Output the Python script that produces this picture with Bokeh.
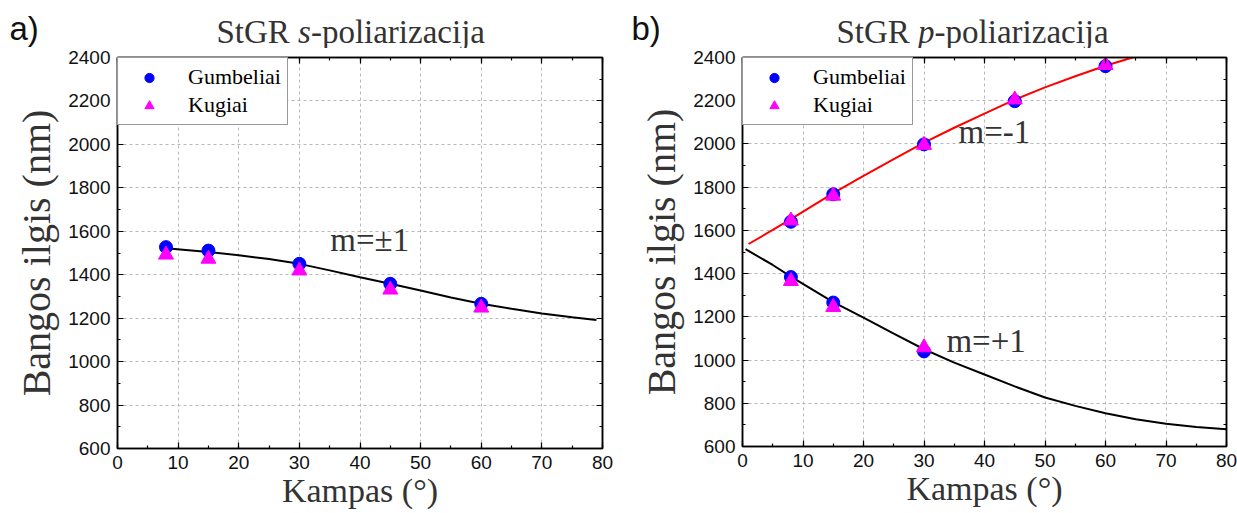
from bokeh.plotting import figure
from bokeh.models import (LinearAxis, SingleIntervalTicker, Label, Legend, LegendItem, Range1d,
                          CustomJSTickFormatter)
from bokeh.layouts import row, column
from bokeh.core.properties import value
from bokeh.embed import file_html
from bokeh.resources import INLINE

# ---------------- data ----------------
angles = [8, 15, 30, 45, 60]

# panel a) s-polarization
s_gumb = [1527, 1511, 1450, 1358, 1266]
s_kug = [1492, 1473, 1419, 1331, 1248]
s_curve_x = [8, 15, 20, 25, 30, 35, 40, 45, 50, 55, 60, 65, 70, 75, 79]
s_curve_y = [1522, 1505, 1490, 1472, 1450, 1420, 1388, 1358, 1327, 1295, 1266, 1243, 1222, 1204, 1192]

# panel b) p-polarization
p_gumb_m1 = [1640, 1767, 1998, 2198, 2360]
p_kug_m1 = [1645, 1760, 1995, 2205, 2365]
p_gumb_p1 = [1384, 1266, 1040]
p_kug_p1 = [1365, 1245, 1058]
p_angles_p1 = [8, 15, 30]
p_red_x = [1, 5, 8, 15, 20, 25, 30, 35, 40, 45, 50, 55, 60, 65]
p_red_y = [1537, 1602, 1652, 1772, 1852, 1930, 2006, 2075, 2140, 2205, 2262, 2313, 2362, 2405]
p_blk_x = [0.5, 5, 8, 15, 20, 25, 30, 35, 40, 45, 50, 55, 60, 65, 70, 75, 80]
p_blk_y = [1513, 1440, 1386, 1268, 1196, 1122, 1050, 988, 933, 878, 827, 788, 754, 726, 705, 690, 680]

x_ticks_interval = 10
y_ticks_interval = 200

SERIF = "Liberation Serif"
SANS = "Liberation Sans"
TXT = "#333333"


def style_axis(ax, show_labels):
    ax.axis_line_color = "black"
    ax.axis_line_width = 1.5
    ax.major_tick_in = 6
    ax.major_tick_out = 0
    ax.minor_tick_in = 3
    ax.minor_tick_out = 0
    ax.major_tick_line_width = 1.2
    ax.minor_tick_line_width = 1.2
    ax.major_label_text_font = SANS
    ax.major_label_text_color = "#111111"
    ax.major_label_text_font_size = "19px" if show_labels else "1px"
    ax.major_label_standoff = 7 if show_labels else 0
    if not show_labels:
        ax.formatter = CustomJSTickFormatter(code="return ''")
    ax.axis_label_text_font = SERIF
    ax.axis_label_text_font_style = "normal"
    ax.axis_label_text_color = TXT


def make_panel(fw, fh, bl, br, bt, bb):
    p = figure(frame_width=fw, frame_height=fh, output_backend="svg", toolbar_location=None,
               x_range=Range1d(0, 80), y_range=Range1d(600, 2400), title=None,
               min_border_left=bl, min_border_right=br, min_border_top=bt, min_border_bottom=bb,
               x_axis_label="Kampas (°)", y_axis_label="Bangos ilgis (nm)")
    p.outline_line_color = "black"
    p.outline_line_width = 1.5
    xt = SingleIntervalTicker(interval=x_ticks_interval, num_minor_ticks=2)
    yt = SingleIntervalTicker(interval=y_ticks_interval, num_minor_ticks=2)
    p.xaxis.ticker = xt
    p.yaxis.ticker = yt
    for ax in p.xaxis + p.yaxis:
        style_axis(ax, True)
    p.xaxis.axis_label_text_font_size = "34px"
    p.yaxis.axis_label_text_font_size = "40px"
    p.xaxis.axis_label_standoff = 0
    p.yaxis.axis_label_standoff = 6
    top = LinearAxis(ticker=SingleIntervalTicker(interval=x_ticks_interval, num_minor_ticks=2))
    right = LinearAxis(ticker=SingleIntervalTicker(interval=y_ticks_interval, num_minor_ticks=2))
    style_axis(top, False)
    style_axis(right, False)
    p.add_layout(top, "above")
    p.add_layout(right, "right")
    p.xgrid.ticker = xt
    p.ygrid.ticker = yt
    for g in (p.xgrid, p.ygrid):
        g.grid_line_color = "#b8b8b8"
        g.grid_line_dash = "3 3"
        g.grid_line_width = 1
    return p


def make_header(w, h, tag, tag_x, title_x, italic_letter, italic_w):
    hf = figure(width=w, height=h, output_backend="svg", toolbar_location=None, title=None,
                x_range=Range1d(0, w), y_range=Range1d(h, 0),
                x_axis_type=None, y_axis_type=None, min_border=0,
                min_border_left=0, min_border_right=0, min_border_top=0, min_border_bottom=0)
    hf.outline_line_color = None
    hf.grid.visible = False
    base = 31
    hf.text(x=[tag_x], y=[base - 3], text=[tag], text_font=value(SANS), text_font_size="33px",
            text_color="#111111", text_baseline="alphabetic")
    w_stgr = 81.6
    hf.text(x=[title_x], y=[base], text=["StGR"], text_font=value(SERIF), text_font_size="33px",
            text_color=TXT, text_baseline="alphabetic")
    hf.text(x=[title_x + w_stgr], y=[base], text=[italic_letter], text_font=value(SERIF),
            text_font_size="33px", text_font_style="italic", text_color=TXT, text_baseline="alphabetic")
    hf.text(x=[title_x + w_stgr + italic_w], y=[base], text=["-poliarizacija"], text_font=value(SERIF),
            text_font_size="33px", text_color=TXT, text_baseline="alphabetic")
    return hf


def add_legend(p, r_c, r_t):
    leg = Legend(items=[LegendItem(label="Gumbeliai", renderers=[r_c]),
                        LegendItem(label="Kugiai", renderers=[r_t])],
                 location="top_left", margin=0, padding=6, spacing=2,
                 label_height=23, glyph_width=50, glyph_height=23, label_standoff=14,
                 label_text_font=SERIF, label_text_font_size="22px", label_text_color="black",
                 border_line_color="#333333", border_line_width=1.2,
                 background_fill_color="white", background_fill_alpha=1.0)
    p.add_layout(leg, "center")


# ---------------- panel a ----------------
h1 = make_header(618, 48, "a)", 9, 216, "s", 12.8)
p1 = make_panel(485, 391, 117, 16, 9, 65)
p1.line(s_curve_x, s_curve_y, line_color="black", line_width=2)
c1 = p1.scatter(angles, s_gumb, marker="circle", size=13, fill_color="blue", line_color="blue")
t1 = p1.scatter(angles, s_kug, marker="triangle", size=15, fill_color="magenta", line_color="magenta")
add_legend(p1, c1, t1)
p1.add_layout(Label(x=35.1, y=1479, text="m=±1", text_font=SERIF, text_font_size="33px", text_color=TXT))

# ---------------- panel b ----------------
h2 = make_header(619, 48, "b)", 13, 218, "p", 16.5)
p2 = make_panel(484, 389, 124, 11, 7, 69)
p2.line(p_red_x, p_red_y, line_color="red", line_width=2)
p2.line(p_blk_x, p_blk_y, line_color="black", line_width=2)
c2 = p2.scatter(angles, p_gumb_m1, marker="circle", size=13, fill_color="blue", line_color="blue")
t2 = p2.scatter(angles, p_kug_m1, marker="triangle", size=15, fill_color="magenta", line_color="magenta")
p2.scatter(p_angles_p1, p_gumb_p1, marker="circle", size=13, fill_color="blue", line_color="blue")
p2.scatter(p_angles_p1, p_kug_p1, marker="triangle", size=15, fill_color="magenta", line_color="magenta")
add_legend(p2, c2, t2)
p2.add_layout(Label(x=35.7, y=1974, text="m=-1", text_font=SERIF, text_font_size="33px", text_color=TXT))
p2.add_layout(Label(x=33.7, y=1003, text="m=+1", text_font=SERIF, text_font_size="33px", text_color=TXT))

layout = column(row(h1, h2), row(p1, p2))
open("out.html", "w").write(file_html(layout, INLINE))
